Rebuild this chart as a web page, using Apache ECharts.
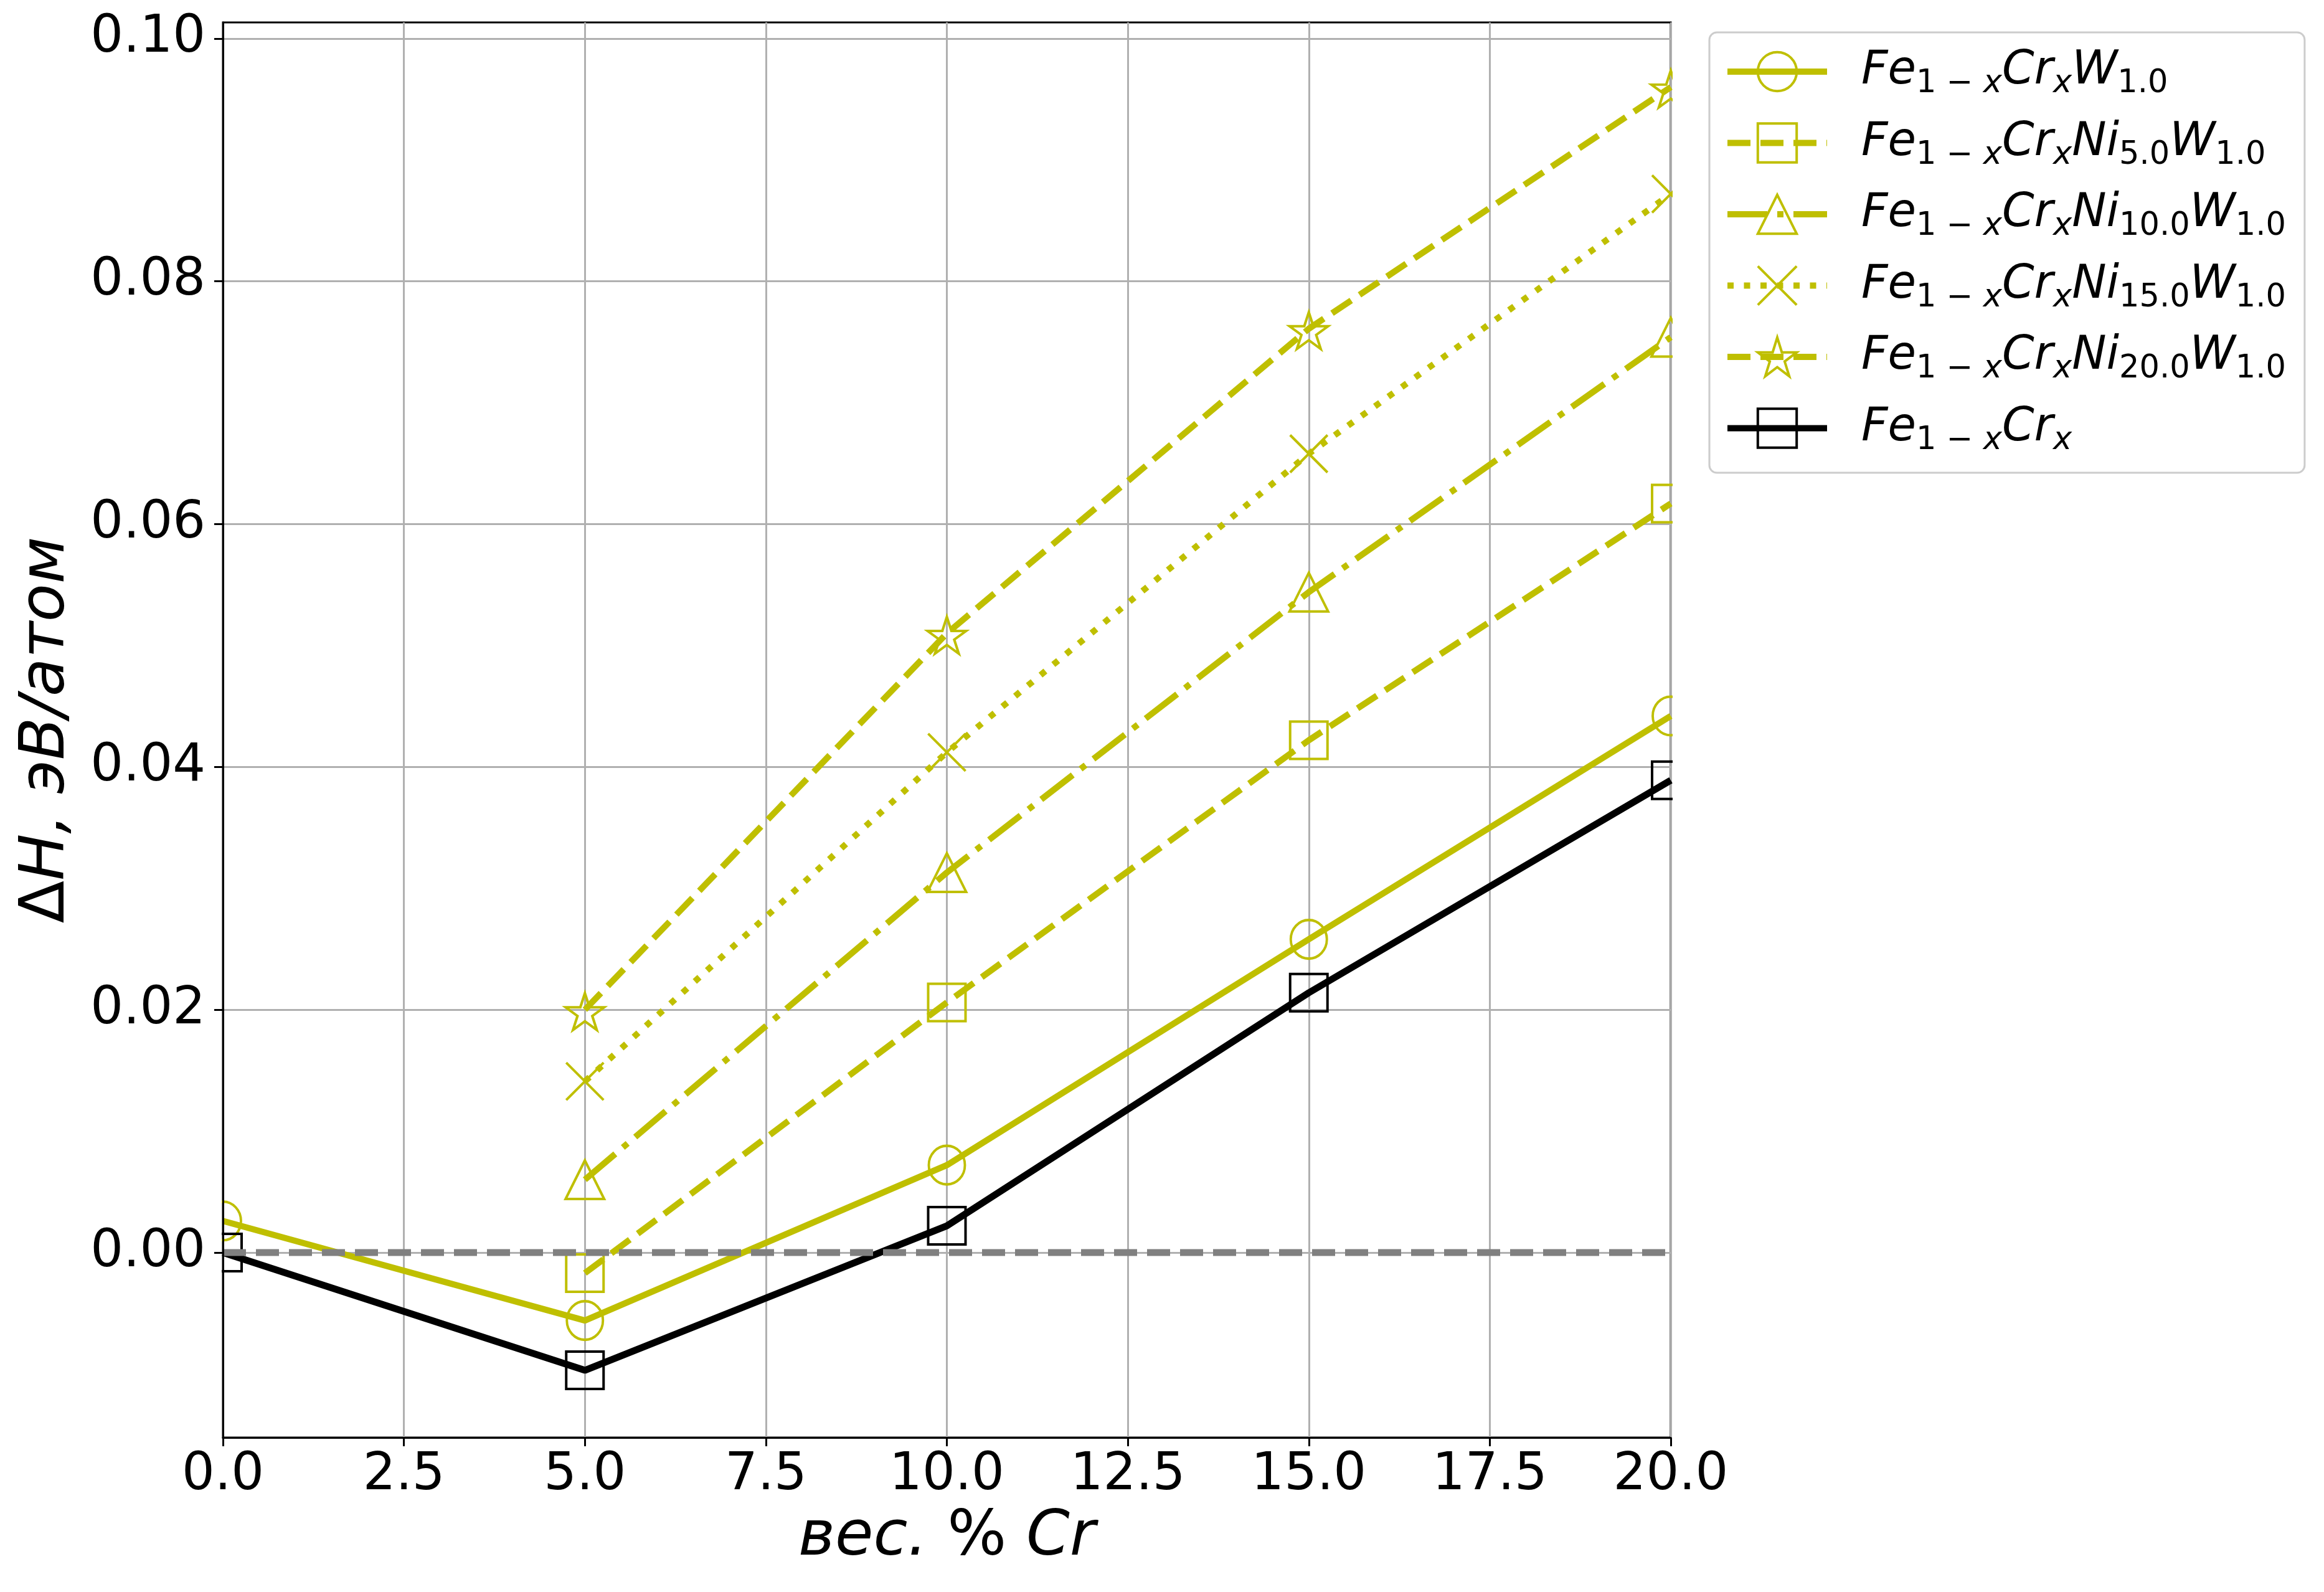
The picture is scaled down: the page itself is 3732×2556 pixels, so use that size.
<!DOCTYPE html>
<html><head><meta charset="utf-8">
<script src="https://cdn.jsdelivr.net/npm/echarts@6/dist/echarts.min.js"></script>
<style>html,body{margin:0;padding:0;background:#fff}#c{width:3732px;height:2556px}</style>
</head><body><div id="c"></div>
<script>
// ---- data ----
const xAll = [0, 5, 10, 15, 20];
const xNi = [5, 10, 15, 20];
const feCrW   = [0.0026, -0.0056, 0.0072, 0.0258, 0.0442];
const feCrNi5W  = [-0.0017, 0.0206, 0.0422, 0.0617];
const feCrNi10W = [0.0060, 0.0313, 0.0544, 0.0754];
const feCrNi15W = [0.0141, 0.0412, 0.0658, 0.0872];
const feCrNi20W = [0.0200, 0.0510, 0.0761, 0.0960];
const feCr    = [0.0000, -0.0097, 0.0022, 0.0214, 0.0389];
const zeroX = [0, 20];
const zeroY = [0, 0];
const yTicks = [0.00, 0.02, 0.04, 0.06, 0.08, 0.10];
const seriesNames = ['Fe1−xCrxW1.0', 'Fe1−xCrxNi5.0W1.0', 'Fe1−xCrxNi10.0W1.0', 'Fe1−xCrxNi15.0W1.0', 'Fe1−xCrxNi20.0W1.0', 'Fe1−xCrx'];
const legendRich = {
  'Fe1−xCrxW1.0': '{fe|Fe}{s|1 − }{si|x}{m|Cr}{si|x}{m|W}{s|1.0}',
  'Fe1−xCrxNi5.0W1.0': '{fe|Fe}{s|1 − }{si|x}{m|Cr}{si|x}{m|Ni}{s|5.0}{m|W}{s|1.0}',
  'Fe1−xCrxNi10.0W1.0': '{fe|Fe}{s|1 − }{si|x}{m|Cr}{si|x}{m|Ni}{s|10.0}{m|W}{s|1.0}',
  'Fe1−xCrxNi15.0W1.0': '{fe|Fe}{s|1 − }{si|x}{m|Cr}{si|x}{m|Ni}{s|15.0}{m|W}{s|1.0}',
  'Fe1−xCrxNi20.0W1.0': '{fe|Fe}{s|1 − }{si|x}{m|Cr}{si|x}{m|Ni}{s|20.0}{m|W}{s|1.0}',
  'Fe1−xCrx': '{fe|Fe}{s|1 − }{si|x}{m|Cr}{si|x}'
};

// ---- styling ----
const Y = '#bfbf00';
const FONT = 'DejaVu Sans';
const LW = 10;
const MW = 4;
function pairs(xs, ys) { return xs.map((x, i) => [x, ys[i]]); }

function starPath() {
  let d = '';
  for (let i = 0; i < 10; i++) {
    const r = (i % 2 === 0) ? 1 : 0.381966;
    const a = Math.PI / 2 + i * Math.PI / 5;
    const px = (r * Math.cos(a)).toFixed(4), py = (-r * Math.sin(a)).toFixed(4);
    d += (i === 0 ? 'M' : 'L') + px + ',' + py;
  }
  return 'path://' + d + 'Z';
}
const xPath = 'path://M0,0L10,10M10,0L0,10';

function mkSeries(name, xs, ys, color, symbol, size, dash, lw, extra) {
  return Object.assign({
    name: name, type: 'line', data: pairs(xs, ys),
    symbol: symbol, symbolSize: size, showAllSymbol: true,
    color: color,
    lineStyle: { color: color, width: lw, type: dash, cap: 'butt' },
    itemStyle: { color: 'rgba(0,0,0,0)', borderColor: color, borderWidth: MW },
    emphasis: { disabled: true },
    clip: true, z: 2
  }, extra || {});
}

const series = [
  mkSeries(seriesNames[0], xAll, feCrW, Y, 'circle', [58, 62], 'solid', LW),
  mkSeries(seriesNames[1], xNi, feCrNi5W, Y, 'rect', 60, [37, 16], LW),
  mkSeries(seriesNames[2], xNi, feCrNi10W, Y, 'triangle', 62, [64, 16, 10, 16], LW),
  mkSeries(seriesNames[3], xNi, feCrNi15W, Y, xPath, 60, [10, 16.5], LW),
  mkSeries(seriesNames[4], xNi, feCrNi20W, Y, starPath(), [62, 59], [37, 16], LW, { symbolOffset: [0, 3] }),
  mkSeries(seriesNames[5], xAll, feCr, '#000000', 'rect', 60, 'solid', 11),
  {
    name: 'zero', type: 'line', data: pairs(zeroX, zeroY), symbol: 'none',
    lineStyle: { color: '#808080', width: 11, type: [37, 16], cap: 'butt' },
    emphasis: { disabled: true }, z: 20, silent: true
  }
];

const axisLabelFont = { fontFamily: FONT, fontSize: 83, color: '#000' };
const yMin = -0.01524, yMax = 0.10133;

const option = {
  animation: false,
  backgroundColor: '#ffffff',
  grid: { left: 358, right: 1049, top: 36, bottom: 248, show: true, borderColor: '#000', borderWidth: 3, containLabel: false },
  xAxis: {
    type: 'value', min: 0, max: 20, interval: 2.5,
    axisLine: { show: true, onZero: false, lineStyle: { color: '#000', width: 3 } },
    axisTick: { show: true, inside: false, length: 14, lineStyle: { color: '#000', width: 3 } },
    axisLabel: Object.assign({ margin: 20, formatter: v => v.toFixed(1) }, axisLabelFont),
    splitLine: { show: true, lineStyle: { color: '#b0b0b0', width: 3 } },
    name: '{i|вес.}{u| % }{i|Cr}', nameLocation: 'middle', nameGap: 112,
    nameTextStyle: { rich: {
      i: { fontFamily: FONT, fontSize: 100, fontStyle: 'italic', color: '#000' },
      u: { fontFamily: FONT, fontSize: 100, color: '#000' } } }
  },
  yAxis: [{
    type: 'value', min: yMin, max: yMax,
    axisLine: { show: false }, axisTick: { show: false, customValues: yTicks },
    axisLabel: { show: false, customValues: yTicks },
    splitLine: { show: true, lineStyle: { color: '#b0b0b0', width: 3 } }
  }, {
    type: 'value', min: yMin, max: yMax, position: 'left', z: 60,
    axisLine: { show: true, onZero: false, lineStyle: { color: '#000', width: 3 } },
    axisTick: { show: true, inside: false, length: 14, customValues: yTicks, lineStyle: { color: '#000', width: 3 } },
    axisLabel: Object.assign({ margin: 28, customValues: yTicks, formatter: v => v.toFixed(2) }, axisLabelFont),
    splitLine: { show: false },
    name: '{u|Δ}{i|H, эВ/атом}', nameLocation: 'middle', nameGap: 232, nameRotate: 90,
    nameTextStyle: { rich: {
      i: { fontFamily: FONT, fontSize: 100, fontStyle: 'italic', color: '#000' },
      u: { fontFamily: FONT, fontSize: 100, color: '#000' } } }
  }],
  legend: {
    data: seriesNames,
    orient: 'vertical', left: 2745, top: 52,
    itemWidth: 160, itemHeight: 78, itemGap: 32,
    padding: [26, 30, 26, 24],
    borderColor: '#cccccc', borderWidth: 3, borderRadius: 12,
    backgroundColor: 'rgba(255,255,255,0.8)',
    itemStyle: { borderWidth: MW },
    lineStyle: { width: LW },
    selectedMode: false,
    formatter: name => legendRich[name],
    textStyle: {
      fontFamily: FONT, fontSize: 74, color: '#000',
      rich: {
        fe: { fontFamily: FONT, fontSize: 74, fontStyle: 'italic', color: '#000', padding: [0, 0, 0, 50] },
        m: { fontFamily: FONT, fontSize: 74, fontStyle: 'italic', color: '#000' },
        s: { fontFamily: FONT, fontSize: 51, color: '#000', padding: [40, 0, 0, 0] },
        si: { fontFamily: FONT, fontSize: 51, fontStyle: 'italic', color: '#000', padding: [40, 0, 0, 0] }
      }
    }
  },
  graphic: [
    { type: 'rect', left: 0, top: 36, z: 50, silent: true, shape: { width: 356, height: 2272 }, style: { fill: '#ffffff' } },
    { type: 'rect', left: 2686, top: 30, z: 50, silent: true, shape: { width: 56, height: 2280 }, style: { fill: '#ffffff' } }
  ],
  series: series
};

const chart = echarts.init(document.getElementById('c'), null, { renderer: 'canvas' });
chart.setOption(option);
</script></body></html>
